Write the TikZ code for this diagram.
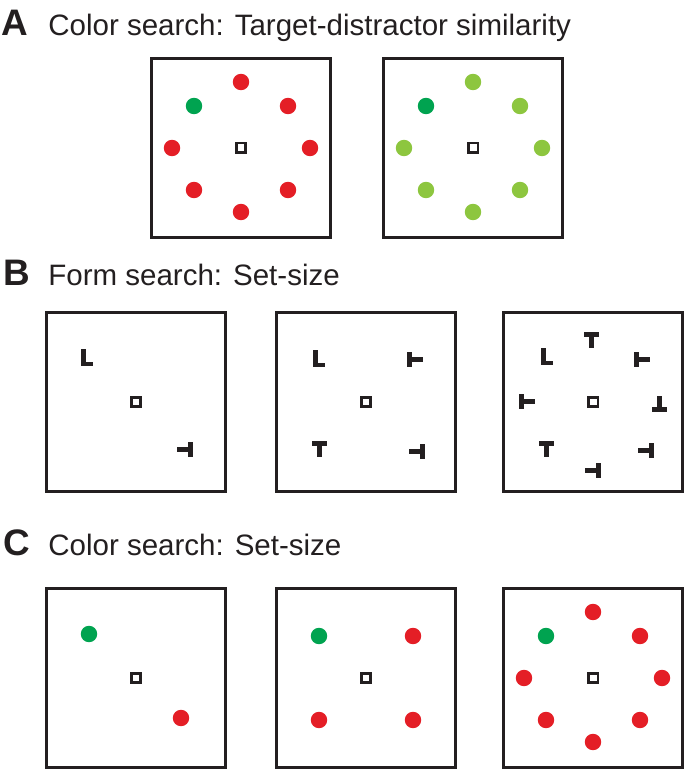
\documentclass[tikz,border=0pt]{standalone}
\usepackage{fontspec}
\setmainfont{Liberation Sans}
\usepackage{tikz}
\definecolor{rouge}{RGB}{228,30,38}
\definecolor{vert}{RGB}{0,163,80}
\definecolor{vertc}{RGB}{141,198,63}
\definecolor{noir}{RGB}{35,31,32}

\begin{document}
\begin{tikzpicture}[x=0.02cm, y=0.02cm,
  cadre/.style={rectangle, draw=noir, line width=0.06cm, minimum size=3.58cm, inner sep=0pt},
  fixe/.style={rectangle, draw=noir, line width=0.05cm, minimum size=0.19cm, inner sep=0pt},
  rond/.style={circle, fill=#1, minimum size=0.33cm, inner sep=0pt},
  lettre/.style={anchor=base west, inner sep=0pt, text=noir, font=\bfseries\fontsize{21}{24}\selectfont},
  titre/.style={anchor=base west, inner sep=0pt, text=noir, font=\fontsize{16.8}{20}\selectfont},
  tee/.pic={\fill[noir] (-7.5,3) rectangle (7.5,8); \fill[noir] (-2.5,-8) rectangle (2.5,3);},
  ell/.pic={\fill[noir] (-6,-8.5) rectangle (-1.2,8.5); \fill[noir] (-1.2,-8.5) rectangle (6,-3.7);}]

\useasboundingbox (0,0) rectangle (685,769);

% A : similarite cible-distracteurs
\node[lettre] (la) at (1,733) {A};
\node[titre] (ta) at (48,733) {Color search: Target-distractor similarity};
\node[cadre] (a1) at (241,621) {};
\node[fixe] (a1f) at (a1.center) {};
\node[rond=vert] (a1g) at ([shift={(-47,42)}]a1.center) {};
\foreach \dx/\dy [count=\i] in {0/66,47/42,69/0,47/-42,0/-64,-47/-42,-69/0}
  \node[rond=rouge] (a1d\i) at ([shift={(\dx,\dy)}]a1.center) {};
\node[cadre] (a2) at (473,621) {};
\node[fixe] (a2f) at (a2.center) {};
\node[rond=vert] (a2g) at ([shift={(-47,42)}]a2.center) {};
\foreach \dx/\dy [count=\i] in {0/66,47/42,69/0,47/-42,0/-64,-47/-42,-69/0}
  \node[rond=vertc] (a2d\i) at ([shift={(\dx,\dy)}]a2.center) {};

% B : formes
\node[lettre] (lb) at (3,483) {B};
\node[titre] (tb) at (48,483) {Form search: Set-size};
\node[cadre] (b1) at (136,367) {};
\node[fixe] (b1f) at (b1.center) {};
\pic (b1l) at ([shift={(-49,44)}]b1.center) {ell};
\pic[rotate=-90] (b1t) at ([shift={(49,-48)}]b1.center) {tee};
\node[cadre] (b2) at (366,367) {};
\node[fixe] (b2f) at (b2.center) {};
\pic (b2l) at ([shift={(-47,43)}]b2.center) {ell};
\pic[rotate=90] (b2ta) at ([shift={(49,42)}]b2.center) {tee};
\pic (b2tb) at ([shift={(-47,-47)}]b2.center) {tee};
\pic[rotate=-90] (b2tc) at ([shift={(51,-50)}]b2.center) {tee};
\node[cadre] (b3) at (593,367) {};
\node[fixe] (b3f) at (b3.center) {};
\pic (b3l) at ([shift={(-46,45)}]b3.center) {ell};
\pic (b3ta) at ([shift={(-2,62)}]b3.center) {tee};
\pic[rotate=90] (b3tb) at ([shift={(49,42)}]b3.center) {tee};
\pic[rotate=180] (b3tc) at ([shift={(66,-2)}]b3.center) {tee};
\pic[rotate=-90] (b3td) at ([shift={(53,-49)}]b3.center) {tee};
\pic[rotate=-90] (b3te) at ([shift={(0,-69)}]b3.center) {tee};
\pic (b3tf) at ([shift={(-47,-47)}]b3.center) {tee};
\pic[rotate=90] (b3tg) at ([shift={(-66,0)}]b3.center) {tee};

% C : couleurs
\node[lettre] (lc) at (3,214) {C};
\node[titre] (tc) at (48,214) {Color search: Set-size};
\node[cadre] (c1) at (136,91) {};
\node[fixe] (c1f) at (c1.center) {};
\node[rond=vert] (c1g) at ([shift={(-47,44)}]c1.center) {};
\node[rond=rouge] (c1d) at ([shift={(45,-40)}]c1.center) {};
\node[cadre] (c2) at (366,91) {};
\node[fixe] (c2f) at (c2.center) {};
\node[rond=vert] (c2g) at ([shift={(-47,42)}]c2.center) {};
\foreach \dx/\dy [count=\i] in {47/42,47/-42,-47/-42}
  \node[rond=rouge] (c2d\i) at ([shift={(\dx,\dy)}]c2.center) {};
\node[cadre] (c3) at (593,91) {};
\node[fixe] (c3f) at (c3.center) {};
\node[rond=vert] (c3g) at ([shift={(-47,42)}]c3.center) {};
\foreach \dx/\dy [count=\i] in {0/66,47/42,69/0,47/-42,0/-64,-47/-42,-69/0}
  \node[rond=rouge] (c3d\i) at ([shift={(\dx,\dy)}]c3.center) {};

\end{tikzpicture}
\end{document}
